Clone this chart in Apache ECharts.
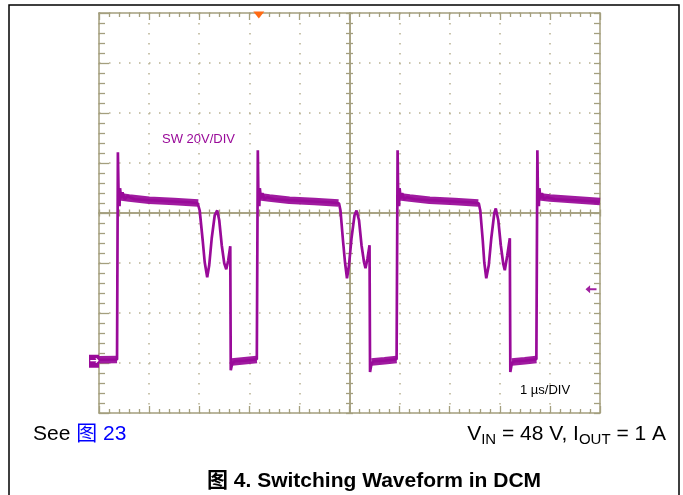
<!DOCTYPE html>
<html><head><meta charset="utf-8">
<script src="https://cdn.jsdelivr.net/npm/echarts@6/dist/echarts.min.js"></script>
<style>html,body{margin:0;padding:0;background:#fff}#c{width:683px;height:495px}</style>
</head><body><div id="c"></div>
<script>
// ---- data (time in µs, SW voltage in V; 20 V/div, 1 µs/div) ----
const timeUs = [
  0.00,0.36,0.37,0.377,0.39,0.41,0.42,0.44,0.47,0.51,0.57,0.71,1.01,1.41,1.81,1.97,
  2.01,2.07,2.11,2.16,2.20,2.25,2.31,2.36,2.40,2.45,2.50,2.54,2.58,2.62,2.63,2.66,2.71,2.91,3.15,3.16,3.17,
  3.18,3.20,3.21,3.23,3.26,3.30,3.36,3.50,3.80,4.20,4.60,4.79,
  4.82,4.87,4.91,4.95,4.99,5.04,5.10,5.14,5.19,5.24,5.29,5.32,5.36,5.40,5.41,5.44,5.49,5.70,5.94,5.95,5.96,
  5.97,5.99,6.00,6.02,6.05,6.09,6.15,6.30,6.60,7.00,7.40,7.58,
  7.61,7.66,7.69,7.73,7.78,7.83,7.89,7.92,7.97,8.02,8.07,8.10,8.15,8.20,8.21,8.24,8.29,8.50,8.73,8.74,8.75,
  8.76,8.78,8.79,8.81,8.84,8.88,8.94,9.10,9.50,10.0
];
const swVolts = [
  1.3,1.4,1.4,84.3,68.3,62.7,69.9,65.9,68.3,65.5,66.7,65.5,65.1,64.7,64.3,63.9,
  61,49,40.3,34.3,39.1,49.9,59.1,61,57.1,47.1,39.9,37.5,41.1,46.7,-2.9,-0.1,0.7,0.9,1.5,1.5,85.1,
  68.3,62.7,69.9,65.9,67.9,65.5,66.3,65.5,65.1,64.7,64.3,63.9,
  61,49,40.3,33.9,39.1,49.9,59.1,61,57.1,47.1,40.3,37.9,41.9,47.1,-3.6,-0.1,0.7,0.9,1.5,1.5,85.1,
  68.3,62.7,69.9,65.9,67.9,65.5,66.3,65.5,65.1,64.7,64.3,63.9,
  61,49,40.3,33.9,39.1,49.9,59.9,61.8,57.1,47.1,39.5,37.1,43.1,49.9,-3.6,-0.1,0.7,0.9,1.5,1.5,85.1,
  68.3,62.7,69.9,65.9,67.9,65.5,66.3,65.5,65.1,64.5
];
// noise band of the flat plateaus (null = gap)
const bandT = [0.00,0.36,null,0.42,0.6,1.0,1.5,1.98,null,2.65,2.9,3.15,null,3.21,3.4,3.8,4.3,4.78,null,
  5.44,5.7,5.94,null,6.00,6.2,6.6,7.1,7.57,null,8.24,8.5,8.73,null,8.79,9.0,9.5,10.0];
const bandV = [1.3,1.4,null,66.5,66.0,65.1,64.6,64.0,null,0.4,0.9,1.4,null,66.5,66.0,65.1,64.6,64.0,null,
  0.4,0.9,1.4,null,66.5,66.0,65.1,64.6,64.0,null,0.4,0.9,1.4,null,66.5,66.0,65.3,64.6];
const groundLevel = 0.7;      // channel ground marker
const triggerLevel = 29.5;    // trigger level arrow
const triggerTime = 3.19;     // trigger position marker
const xMin = 0, xMax = 10, xStep = 1;
const yMin = -20, yMax = 140, yStep = 20;

const OLIVE = '#a49f7e', DOT = '#b9b393', PURPLE = '#990a99';

const chart = echarts.init(document.getElementById('c'), null, {renderer:'canvas'});

function axisBase(extra){
  return Object.assign({
    type:'value', axisLabel:{show:false},
    axisLine:{show:true, onZero:false, lineStyle:{color:OLIVE, width:1.5}},
    axisTick:{show:true, inside:true, length:7, lineStyle:{color:OLIVE, width:1.3}},
    minorTick:{show:true, splitNumber:5, length:4, lineStyle:{color:OLIVE, width:1.3}},
    splitLine:{show:false}, minorSplitLine:{show:false}
  }, extra);
}
const dotted = {show:true, lineStyle:{color:DOT, width:1.5, type:[1.5,8.5]}};
const centerTick = {show:true, inside:true, length:3.5, lineStyle:{color:OLIVE, width:1.3}};
const centerMinor = {show:true, splitNumber:5, length:3.5, lineStyle:{color:OLIVE, width:1.3}};

const xs = {min:xMin, max:xMax, interval:xStep};
const ys = {min:yMin, max:yMax, interval:yStep};

const mainData = timeUs.map((t,i)=>[t, swVolts[i]]);
const bandData = bandT.map((t,i)=> t===null ? [null,null] : [t, bandV[i]]);

const option = {
  animation:false,
  backgroundColor:'#fff',
  grid:{left:99, top:13, width:501, height:400, containLabel:false},
  xAxis:[
    axisBase(Object.assign({position:'bottom', splitLine:dotted}, xs)),
    axisBase(Object.assign({position:'top'}, xs)),
    axisBase(Object.assign({position:'bottom', offset:-200, axisTick:centerTick, minorTick:centerMinor}, xs)),
    axisBase(Object.assign({position:'top', offset:-200, axisTick:centerTick, minorTick:centerMinor}, xs))
  ],
  yAxis:[
    axisBase(Object.assign({position:'left', splitLine:dotted, axisTick:{show:true, inside:true, length:10, lineStyle:{color:OLIVE,width:1.3}}, minorTick:{show:true, splitNumber:5, length:6, lineStyle:{color:OLIVE,width:1.3}}}, ys)),
    axisBase(Object.assign({position:'right', axisTick:{show:true, inside:true, length:6, lineStyle:{color:OLIVE,width:1.3}}, minorTick:{show:true, splitNumber:5, length:6, lineStyle:{color:OLIVE,width:1.3}}}, ys)),
    axisBase(Object.assign({position:'left', offset:-250.5, axisTick:centerTick, minorTick:centerMinor}, ys)),
    axisBase(Object.assign({position:'right', offset:-250.5, axisTick:centerTick, minorTick:centerMinor}, ys))
  ],
  series:[
    {
      type:'line', name:'band', data:bandData, showSymbol:false, connectNulls:false, z:3,
      lineStyle:{color:PURPLE, width:7.5, opacity:0.93}, silent:true
    },
    {
      type:'line', name:'SW', data:mainData, showSymbol:false, z:4,
      lineStyle:{color:PURPLE, width:2.7},
      markPoint:{
        animation:false, silent:true,
        data:[
          {coord:[xMin, groundLevel], symbol:'rect', symbolSize:[10,13], symbolOffset:[-5,0],
           itemStyle:{color:PURPLE}, label:{show:true, formatter:'\u2192', color:'#fff', fontSize:11, fontWeight:'bold', position:'inside', fontFamily:'DejaVu Sans'}},
          {coord:[xMax, triggerLevel], symbol:'path://M0,5L5,0L5,3.6L12,3.6L12,6.4L5,6.4L5,10Z', symbolSize:[11,8], symbolOffset:[-9,0],
           itemStyle:{color:'#a020a0'}, label:{show:false}},
          {coord:[triggerTime, yMax], symbol:'triangle', symbolRotate:180, symbolSize:[11,7], symbolOffset:[0,2],
           itemStyle:{color:'#ff6a13'}, label:{show:false}}
        ]
      }
    }
  ],
  graphic:[]
};
chart.setOption(option);

// ---- texts ----
const FONT = '"Liberation Sans", Arial, "Noto Sans CJK SC", sans-serif';
const ctx = document.createElement('canvas').getContext('2d');
function w(text, size, weight){ ctx.font = (weight||'normal')+' '+size+'px '+FONT; return ctx.measureText(text).width; }
function txt(text, x, y, size, color){
  return {type:'text', x:x, y:y, silent:true, z:100,
    style:{text:text, fill:color, font:'normal '+size+'px '+FONT, textAlign:'left', textVerticalAlign:'middle', verticalAlign:'middle'}};
}
const g = [];
g.push({type:'rect', shape:{x:9, y:5, width:670, height:500}, style:{fill:'none', stroke:'#000', lineWidth:1.5}, silent:true, z:90});
g.push(txt('SW 20V/DIV', 162, 139, 13, PURPLE));
g.push(txt('1 \u00b5s/DIV', 520, 390.5, 13, '#000'));
// bottom left
const BS = 21, SS = 15;
const seeW = w('See ', BS);
g.push(txt('See ', 33, 434, BS, '#000'));
g.push(txt('图 23', 33+seeW, 434, BS, '#0000ff'));
// bottom right with subscripts
const parts = [['V',BS],['IN',SS],[' = 48 V, I',BS],['OUT',SS],[' = 1 A',BS]];
let total = 0; parts.forEach(p=>{ total += w(p[0], p[1]); });
let cx = 666 - total;
parts.forEach(p=>{
  const y = p[1]===BS ? 434 : 439.5;
  g.push(txt(p[0], cx, y, p[1], '#000'));
  cx += w(p[0], p[1]);
});
// caption
g.push({type:'text', x:374, y:481, silent:true, z:100,
  style:{text:'图 4. Switching Waveform in DCM', fill:'#000', font:'bold '+BS+'px '+FONT, textAlign:'center', textVerticalAlign:'middle', verticalAlign:'middle'}});
chart.setOption({graphic:g});
</script>
</body></html>
